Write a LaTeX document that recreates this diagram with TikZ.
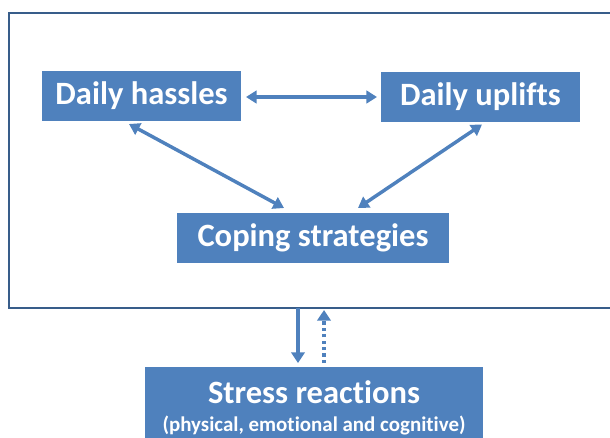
\documentclass[tikz,border=0pt]{standalone}
\usepackage{fontspec}
\setmainfont[Ligatures=NoCommon]{Carlito}
\usetikzlibrary{arrows.meta}
\definecolor{boxblue}{HTML}{4F81BD}
\definecolor{framecol}{HTML}{385D8A}
\tikzset{
  box/.style={fill=boxblue, draw=none, text=white, font=\bfseries\fontsize{24.4}{28}\selectfont, inner sep=0pt, outer sep=0pt, align=center},
  arr/.style={draw=boxblue, line width=2.8pt, -{Triangle[length=8pt,width=10pt]}},
  darr/.style={draw=boxblue, line width=2.6pt, {Triangle[length=8pt,width=9.5pt]}-{Triangle[length=8pt,width=9.5pt]}},
  dotarr/.style={draw=boxblue, line width=2.8pt, dash pattern=on 2.4pt off 2.4pt, -{Triangle[length=8pt,width=10pt]}}
}
\begin{document}
\begin{tikzpicture}[x=0.75pt, y=-0.75pt]
\useasboundingbox (0,0) rectangle (610,437);
\clip (0,0) rectangle (610,437);
\node[draw=framecol, line width=1.6pt, minimum width=611*0.75pt, minimum height=295*0.75pt, inner sep=0pt, outer sep=0pt] (frame) at (314.5,160.5) {};
\node[box, minimum width=199*0.75pt, minimum height=50*0.75pt] (hassles) at (141.5,96) {Daily hassles};
\node[box, minimum width=199*0.75pt, minimum height=50*0.75pt] (uplifts) at (480.5,96.5) {Daily uplifts};
\node[box, minimum width=272*0.75pt, minimum height=50*0.75pt] (coping) at (313,238) {Coping strategies};
\node[box, minimum width=338*0.75pt, minimum height=82*0.75pt] (stress) at (314,408) {Stress reactions\\[-7pt]{\fontsize{15.7}{18}\selectfont (physical, emotional and cognitive)}};
\draw[darr] ([shift={(5,1)}]hassles.east) -- ([shift={(-4,0.5)}]uplifts.west);
\draw[darr] ([shift={(-12.5,3)}]hassles.south) -- ([shift={(-29,-5)}]coping.north);
\draw[darr] ([shift={(1.5,3)}]uplifts.south) -- ([shift={(45,-5)}]coping.north);
\coordinate (sdown) at ([shift={(-16,-4)}]stress.north);
\coordinate (sup1) at ([shift={(10,-4)}]stress.north);
\draw[arr] (sdown |- frame.south) -- (sdown);
\draw[dotarr] (sup1) -- ([shift={(0,2)}]sup1 |- frame.south);
\end{tikzpicture}
\end{document}
